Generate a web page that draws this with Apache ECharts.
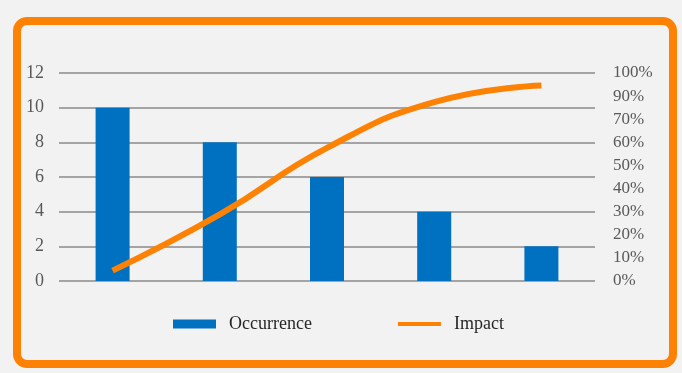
<!DOCTYPE html>
<html>
<head>
<meta charset="utf-8">
<script src="https://cdn.jsdelivr.net/npm/echarts@6/dist/echarts.min.js"></script>
<style>
  html, body { margin: 0; padding: 0; background: #f2f2f2; }
  #main { width: 682px; height: 373px; }
</style>
</head>
<body>
<div id="main"></div>
<script>
// categories have no visible labels in the picture
var categories = ["1", "2", "3", "4", "5"];
var occurrence = [10, 8, 6, 4, 2];
// cumulative impact, percent
var impact = [5, 32, 64, 86, 94];
var leftTicks = [0, 2, 4, 6, 8, 10, 12];
// the right axis labels as printed (80% is missing in the source)
var rightLabels = ["0%", "10%", "20%", "30%", "40%", "50%", "60%", "70%", "90%", "100%"];

var chart = echarts.init(document.getElementById("main"));
var font = "Liberation Serif";

var option = {
    backgroundColor: "#f2f2f2",
    animation: false,
    graphic: [
        {
            type: "rect",
            shape: { x: 17, y: 21, width: 656, height: 343, r: 10 },
            style: { fill: "none", stroke: "#fd8204", lineWidth: 8 },
            z: 100
        }
    ],
    grid: { left: 59, right: 87, top: 73, bottom: 92 },
    legend: {
        left: 168,
        top: 310,
        itemWidth: 43,
        itemHeight: 9,
        itemGap: 84,
        data: [
            { name: "Occurrence", icon: "rect" },
            { name: "Impact", itemStyle: { opacity: 0 }, lineStyle: { width: 4 } }
        ],
        textStyle: {
            fontFamily: font,
            fontSize: 18,
            color: "#262626",
            padding: [0, 0, 0, 8]
        }
    },
    xAxis: {
        type: "category",
        data: categories,
        axisLabel: { show: false },
        axisTick: { show: false },
        axisLine: { show: false }
    },
    yAxis: [
        {
            type: "value",
            min: leftTicks[0],
            max: leftTicks[leftTicks.length - 1],
            interval: 2,
            axisLine: { show: false },
            axisTick: { show: false },
            axisLabel: { fontFamily: font, fontSize: 18, color: "#595959", margin: 15 },
            splitLine: { lineStyle: { color: "#8a8a8a", width: 1.5 } }
        },
        {
            type: "value",
            min: 0,
            max: rightLabels.length - 1,
            interval: 1,
            axisLine: { show: false },
            axisTick: { show: false },
            splitLine: { show: false },
            axisLabel: {
                fontFamily: font,
                fontSize: 17,
                color: "#595959",
                margin: 18,
                formatter: function (v, i) {
                    return rightLabels[Math.round(v)];
                }
            }
        }
    ],
    series: [
        {
            name: "Occurrence",
            type: "bar",
            barWidth: 34,
            itemStyle: { color: "#0070c0" },
            data: occurrence
        },
        {
            name: "Impact",
            type: "line",
            yAxisIndex: 1,
            smooth: true,
            symbol: "none",
            itemStyle: { color: "#fd8204" },
            lineStyle: { color: "#fd8204", width: 6 },
            // map percent onto the 10-label right axis
            data: impact.map(function (v) {
                return v * (rightLabels.length - 1) / 100;
            })
        }
    ]
};

option && chart.setOption(option);
</script>
</body>
</html>
